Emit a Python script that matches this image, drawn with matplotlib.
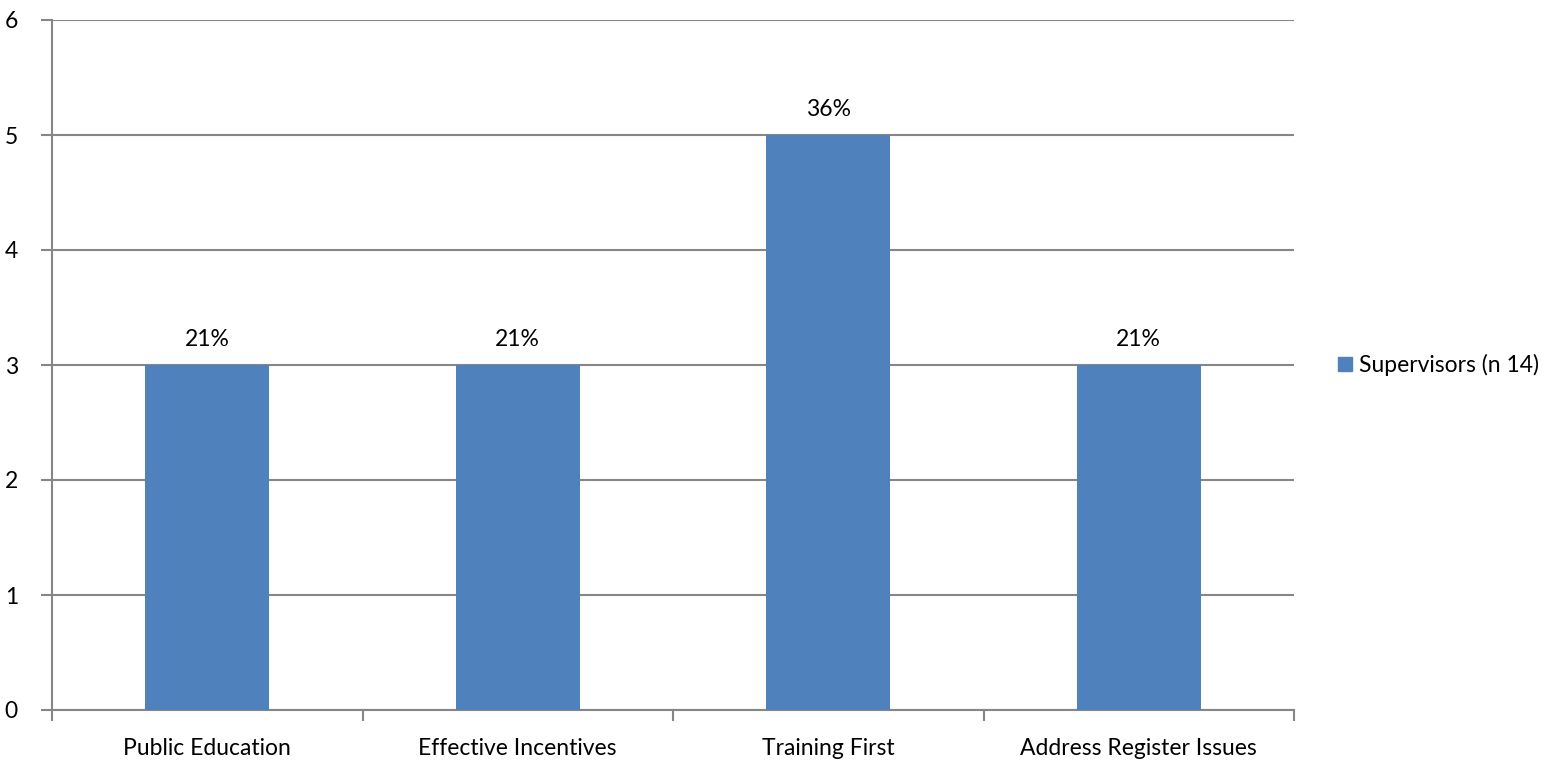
import matplotlib.pyplot as plt
from matplotlib.patches import Patch

plt.rcParams['font.family'] = ['Lato', 'DejaVu Sans']

categories = ['Public Education', 'Effective Incentives', 'Training First', 'Address Register Issues']
counts = [3, 3, 5, 3]
pct_labels = ['21%', '21%', '36%', '21%']
series_name = 'Supervisors (n 14)'

BAR_COLOR = '#4F81BD'
GRID_COLOR = '#868686'
FS = 16.5

fig = plt.figure(figsize=(15.58, 7.65), dpi=100)
ax = fig.add_axes([52/1558, 1-710/765, (1294-52)/1558, (710-20)/765])

x = list(range(len(categories)))
ax.bar(x, counts, width=0.4, color=BAR_COLOR, zorder=3)
for xi, c, lab in zip(x, counts, pct_labels):
    ax.annotate(lab, (xi, c), xytext=(0, 11), textcoords='offset points',
                ha='center', va='bottom', fontsize=FS)

ax.set_xlim(-0.5, len(categories) - 0.5)
ax.set_ylim(0, 6)
ax.set_yticks(range(0, 7))
ax.yaxis.grid(True, color=GRID_COLOR, linewidth=1.5, zorder=0)
ax.set_axisbelow(True)

ax.set_xticks([i - 0.5 for i in range(len(categories) + 1)])
ax.set_xticklabels([])
ax.set_xticks(x, minor=True)
ax.set_xticklabels(categories, minor=True, fontsize=FS)
ax.tick_params(axis='x', which='minor', length=0, pad=20)
ax.tick_params(axis='x', which='major', length=8, width=1.5, color=GRID_COLOR)
ax.tick_params(axis='y', length=8, width=1.5, color=GRID_COLOR, labelsize=FS, pad=26)
for lab in ax.get_yticklabels():
    lab.set_horizontalalignment('left')

for s in ['top', 'right']:
    ax.spines[s].set_visible(False)
for s in ['left', 'bottom']:
    ax.spines[s].set_color(GRID_COLOR)
    ax.spines[s].set_linewidth(1.5)

ax.legend(handles=[Patch(color=BAR_COLOR, label=series_name)], loc='center left',
          bbox_to_anchor=(1.019, 0.5), frameon=False, fontsize=FS,
          handlelength=0.6, handleheight=0.6, handletextpad=0.3)

fig.savefig('out.png', dpi=100)
